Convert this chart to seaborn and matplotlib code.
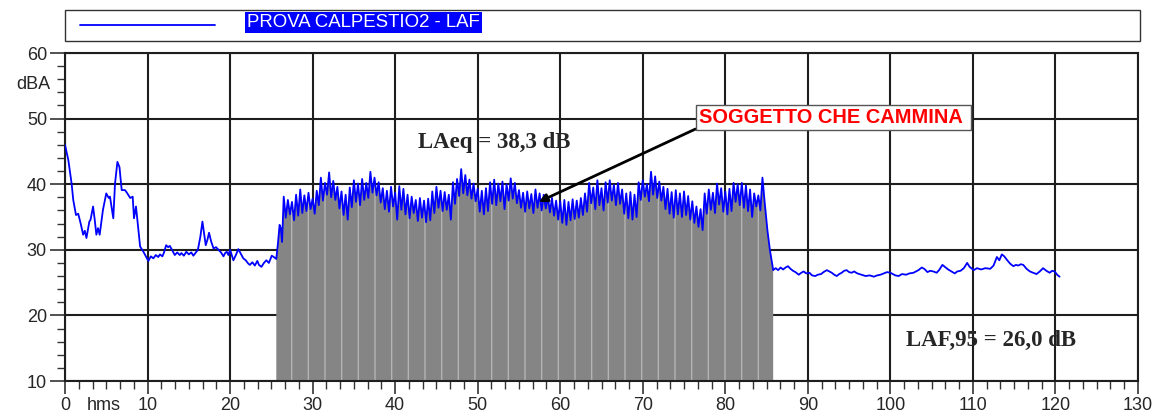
"""
Sound level trace (LAF) for the footstep test, redrawn with seaborn.
"""

import numpy as np
import pandas as pd
import matplotlib
matplotlib.use('Agg')
import matplotlib.pyplot as plt
from matplotlib.ticker import MultipleLocator
from matplotlib.patches import Rectangle
import seaborn as sns

sns.set_style('ticks')
plt.rcParams['font.family'] = ['Liberation Sans', 'DejaVu Sans']

# background noise before the walk (time s, level dBA)
pre_t = [0.0, 0.4, 0.8, 1.0, 1.33, 1.6, 1.9, 2.2, 2.4, 2.6,
         2.95, 3.1, 3.4, 3.6, 3.8, 4.0, 4.2, 4.6, 5.0, 5.3,
         5.45, 5.85, 6.06, 6.35, 6.6, 6.87, 7.27, 7.5, 7.9, 8.2,
         8.36, 8.6, 8.9, 9.1, 9.5, 9.8, 10.1, 10.4, 10.7, 11.0,
         11.3, 11.5, 11.8, 12.0, 12.25, 12.5, 12.7, 13.0, 13.3, 13.6,
         13.9, 14.1, 14.4, 14.7, 15.0, 15.3, 15.55, 15.8, 16.1, 16.4,
         16.65, 16.85, 17.05, 17.25, 17.45, 17.7, 18.0, 18.3, 18.6, 18.9,
         19.2, 19.4, 19.6, 19.8, 20.0, 20.2, 20.4, 20.7, 21.0, 21.3,
         21.6, 21.9, 22.2, 22.4, 22.7, 23.0, 23.3, 23.5, 23.8, 24.1,
         24.4, 24.7, 25.05, 25.3, 25.6, 25.8, 26.0, 26.15, 26.3]
pre_v = [46.0, 43.7, 40.1, 37.6, 35.3, 35.5, 34.0, 32.3, 32.9, 31.8,
         34.3, 34.6, 36.6, 34.6, 32.3, 33.3, 32.3, 36.1, 38.6, 37.9,
         38.1, 34.8, 40.1, 43.4, 42.6, 39.1, 39.1, 38.7, 37.9, 38.1,
         34.8, 36.6, 33.0, 30.5, 29.7, 29.0, 28.3, 29.0, 28.7, 29.2,
         28.9, 29.3, 29.0, 29.6, 30.7, 30.4, 30.6, 29.9, 29.2, 29.6,
         29.2, 29.5, 29.1, 29.7, 29.3, 29.6, 29.1, 29.5, 30.0, 32.0,
         34.3, 32.5, 30.7, 31.5, 32.6, 31.3, 30.2, 30.4, 30.0, 29.6,
         29.0, 29.5, 29.7, 29.2, 30.0, 29.2, 28.4, 29.2, 30.1, 29.4,
         28.7, 28.4, 27.9, 27.7, 28.1, 27.6, 28.3, 27.7, 27.4, 28.0,
         28.4, 28.0, 29.1, 28.9, 28.6, 31.0, 33.8, 33.3, 31.2]

# walking: one step peak every 0.5 s from 26.5 s, trough 0.25 s after each
walk_start = 26.5
step_peaks = [38.1, 37.6, 37.3, 38.4, 39.2, 38.3, 38.7, 37.8, 39.0, 41.0,
              40.2, 41.8, 40.5, 39.6, 38.9, 38.4, 39.5, 40.6, 40.1, 40.8,
              40.2, 41.9, 41.0, 40.3, 39.4, 39.0, 39.6, 38.7, 39.7, 39.3,
              38.4, 38.1, 37.6, 37.9, 37.5, 37.8, 38.9, 39.6, 39.0, 38.8,
              38.4, 40.3, 40.8, 42.3, 41.4, 40.7, 40.1, 39.3, 39.0, 39.4,
              40.3, 40.7, 40.1, 40.4, 40.0, 40.9, 40.2, 39.1, 38.7, 38.9,
              38.5, 39.2, 38.6, 38.4, 38.1, 37.9, 37.5, 37.4, 37.6, 37.3,
              37.7, 37.5, 37.9, 38.6, 40.2, 39.5, 40.6, 39.4, 40.3, 40.6,
              39.9, 40.2, 39.2, 38.6, 38.8, 38.4, 40.3, 40.6, 40.0, 41.9,
              41.2, 40.4, 39.6, 39.3, 38.8, 39.1, 38.6, 38.9, 38.2, 37.4,
              36.6, 36.2, 38.6, 39.2, 38.7, 40.1, 39.4, 38.9, 39.3, 40.2,
              40.0, 40.2, 39.8, 39.2, 38.6, 38.3, 41.0]
step_troughs = [34.9, 35.4, 34.5, 35.2, 35.6, 35.9, 36.2, 35.5, 36.8, 37.5,
                38.4, 38.0, 37.6, 36.3, 35.3, 34.6, 36.5, 37.3, 36.8, 37.6,
                37.9, 38.7, 38.3, 37.2, 36.2, 35.8, 36.6, 34.6, 36.1, 35.4,
                34.8, 35.6, 34.4, 34.9, 34.2, 34.5, 35.6, 36.4, 35.9, 36.1,
                34.6, 37.0, 38.2, 38.6, 38.3, 37.8, 37.4, 35.8, 35.4, 35.9,
                37.0, 36.8, 37.4, 36.2, 37.5, 37.8, 37.1, 36.4, 35.8, 36.3,
                35.6, 36.4, 36.0, 36.3, 35.7, 35.2, 34.6, 34.1, 33.8, 34.5,
                34.7, 34.9, 35.3, 35.8, 37.1, 36.2, 36.8, 36.0, 37.2, 37.5,
                36.8, 37.0, 35.5, 34.8, 34.6, 35.0, 37.6, 38.1, 37.4, 38.4,
                37.9, 37.5, 36.2, 35.5, 34.9, 35.4, 35.0, 35.3, 34.6, 34.1,
                33.5, 33.0, 35.5, 36.1, 35.6, 36.9, 35.8, 35.4, 35.9, 37.3,
                36.8, 36.4, 35.9, 35.0, 36.6, 36.0, 37.5]

# background noise after the walk
post_t = [85.1, 85.4, 85.8, 86.1, 86.4, 86.7, 87.0, 87.3, 87.6, 87.9,
          88.2, 88.5, 88.9, 89.2, 89.5, 89.8, 90.2, 90.5, 90.9, 91.2,
          91.6, 91.9, 92.3, 92.6, 92.9, 93.2, 93.5, 93.8, 94.1, 94.4,
          94.7, 95.0, 95.3, 95.6, 96.0, 96.5, 97.0, 97.5, 98.0, 98.4,
          98.8, 99.2, 99.6, 100.0, 100.3, 100.6, 101.0, 101.4, 101.9, 102.3,
          102.8, 103.1, 103.4, 103.8, 104.1, 104.5, 104.8, 105.2, 105.6, 105.9,
          106.3, 106.6, 107.0, 107.4, 107.8, 108.1, 108.5, 108.9, 109.3, 109.6,
          110.1, 110.5, 111.0, 111.5, 112.1, 112.5, 112.9, 113.2, 113.5, 113.8,
          114.1, 114.5, 114.9, 115.2, 115.5, 115.8, 116.1, 116.5, 116.9, 117.3,
          117.7, 118.1, 118.5, 118.9, 119.3, 119.6, 119.9, 120.2, 120.5]
post_v = [33.0, 30.0, 26.9, 27.2, 26.9, 27.3, 27.0, 27.3, 27.5, 27.1,
          26.8, 26.6, 26.2, 26.5, 26.7, 26.4, 26.5, 26.1, 26.0, 26.2,
          26.3, 26.6, 26.9, 26.7, 26.5, 26.2, 26.0, 26.3, 26.5, 26.8,
          26.9, 26.6, 26.5, 26.7, 26.4, 26.2, 26.0, 26.1, 25.9, 26.1,
          26.2, 26.4, 26.6, 26.5, 26.3, 26.1, 26.0, 26.3, 26.2, 26.4,
          26.5, 26.7, 26.9, 27.3, 27.1, 26.6, 26.8, 26.7, 26.5, 26.9,
          27.7, 27.4, 27.0, 26.7, 26.4, 26.7, 26.8, 27.2, 28.0, 27.4,
          26.9, 27.2, 27.0, 27.2, 27.1, 27.6, 28.9, 28.4, 29.3, 29.0,
          28.5, 27.9, 27.5, 27.7, 27.6, 27.8, 27.7, 27.1, 26.7, 26.5,
          26.3, 26.7, 27.2, 26.8, 26.5, 26.8, 26.7, 26.2, 25.9]

walk_from, walk_to = 25.6, 85.8
series_name = 'PROVA CALPESTIO2 - LAF'
laeq_text = 'LAeq = 38,3 dB'
laf95_text = 'LAF,95 = 26,0 dB'
event_text = 'SOGGETTO CHE CAMMINA '

# build the full trace
walk_t, walk_v = [], []
for k, (p, q) in enumerate(zip(step_peaks, step_troughs)):
    walk_t += [walk_start + 0.5 * k, walk_start + 0.5 * k + 0.25]
    walk_v += [p, q]

df = pd.DataFrame({'t': pre_t + walk_t + post_t,
                   'level': pre_v + walk_v + post_v})

fig = plt.figure(figsize=(11.54, 4.16), dpi=100)
W, H = 1154, 416
ax = fig.add_axes([65 / W, 1 - 381 / H, (1138 - 65) / W, (381 - 53) / H])

# grey band under the trace while the person walks
mask = (df['t'] >= walk_from) & (df['t'] <= walk_to)
ax.fill_between(df['t'], 10, df['level'], where=mask, facecolor='#858585',
                edgecolor='#b4b4b4', hatch='|', linewidth=0, zorder=2)

sns.lineplot(data=df, x='t', y='level', color='#0000ff', lw=1.3,
             sort=False, estimator=None, ax=ax, zorder=3)

ax.set_xlim(0, 130)
ax.set_ylim(10, 60)
ax.xaxis.set_major_locator(MultipleLocator(10))
ax.xaxis.set_minor_locator(MultipleLocator(10 / 6))
ax.yaxis.set_major_locator(MultipleLocator(10))
ax.yaxis.set_minor_locator(MultipleLocator(2))
ax.grid(True, which='major', color='#1e1e1e', lw=1.5, zorder=1)
ax.set_axisbelow(True)
for sp in ax.spines.values():
    sp.set_color('#1e1e1e')
    sp.set_linewidth(1.5)
ax.tick_params(which='major', direction='out', length=11, width=1.2,
               color='#333333', labelsize=13, pad=2)
ax.tick_params(which='minor', direction='out', length=5.5, width=1.0,
               color='#333333')
ax.tick_params(axis='x', which='major', length=9, pad=2.5)
ax.set_xlabel('')
ax.set_ylabel('')

# unit labels
ax.text(-0.045, 0.905, 'dBA', transform=ax.transAxes, ha='left', va='center',
        fontsize=13)
ax.text(4.7, -0.075, 'hms', transform=ax.get_xaxis_transform(), ha='center',
        va='center', fontsize=13)

# result texts
ax.text(42.8, 46.3, laeq_text, ha='left', va='center', fontsize=16.5,
        fontweight='bold', family=['Liberation Serif', 'DejaVu Serif'], zorder=4)
ax.text(101.9, 16.25, laf95_text, ha='left', va='center', fontsize=16.5,
        fontweight='bold', family=['Liberation Serif', 'DejaVu Serif'], zorder=4)

ax.annotate(event_text, xy=(57.4, 37.3), xytext=(76.8, 50.1),
            ha='left', va='center', color='red', fontsize=14.4,
            fontweight='bold', zorder=5,
            bbox=dict(boxstyle='square,pad=0.15', fc='white', ec='#555555', lw=1),
            arrowprops=dict(arrowstyle='-|>', color='black', lw=2,
                            relpos=(0, 0), mutation_scale=12,
                            shrinkA=0, shrinkB=0))

# legend strip across the top
fig.patches.append(Rectangle((65 / W, 1 - 41 / H), (1140 - 65) / W, 31 / H,
                             transform=fig.transFigure, fill=False,
                             ec='#333333', lw=1))
fig.lines.append(plt.Line2D([80 / W, 215 / W], [1 - 25 / H, 1 - 25 / H],
                            transform=fig.transFigure, color='#0000ff', lw=1.3))
fig.text(247 / W, 1 - 22.5 / H, series_name, ha='left', va='center',
         color='white', fontsize=13.4,
         bbox=dict(boxstyle='square,pad=0.12', fc='#0000ff', ec='none'))

fig.savefig('out.png', dpi=100)
plt.close(fig)
